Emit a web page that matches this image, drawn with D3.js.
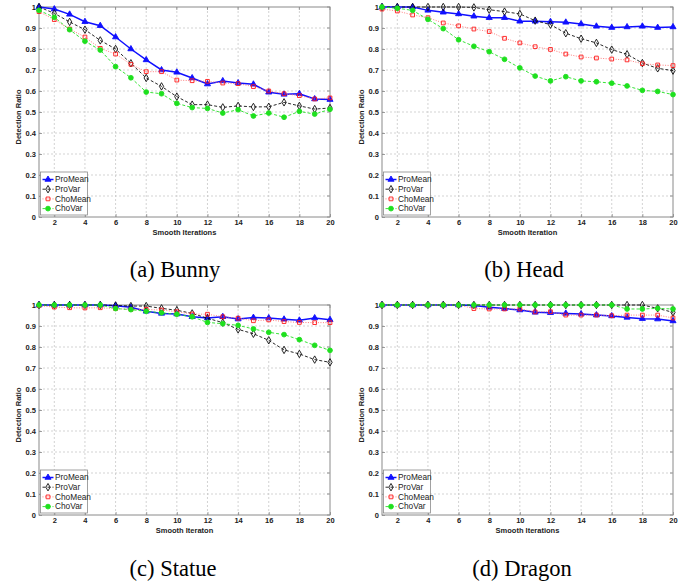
<!DOCTYPE html>
<html>
<head>
<meta charset="utf-8">
<script src="https://cdn.jsdelivr.net/npm/d3@7"></script>
<style>
  body { margin: 0; background: #fff; }
  svg { display: block; }
  .tick-label, .axis-title, .legend-text { font-family: "Liberation Sans", Arial, sans-serif; fill: #222; }
  .caption { font-family: "Liberation Serif", "Times New Roman", serif; font-size: 22.5px; fill: #000; }
</style>
</head>
<body>
<script>
// iterations on the x axis
const iterations = [1, 2, 3, 4, 5, 6, 7, 8, 9, 10, 11, 12, 13, 14, 15, 16, 17, 18, 19, 20];
const xTicks = [2, 4, 6, 8, 10, 12, 14, 16, 18, 20];
const yTicks = [0, 0.1, 0.2, 0.3, 0.4, 0.5, 0.6, 0.7, 0.8, 0.9, 1];
const seriesNames = ["ProMean", "ProVar", "ChoMean", "ChoVar"];

// (a) Bunny
const bunnyProMean = [1.0, 0.99, 0.965, 0.93, 0.911, 0.857, 0.80, 0.748, 0.70, 0.689, 0.662, 0.633, 0.648, 0.638, 0.632, 0.594, 0.584, 0.587, 0.562, 0.559];
const bunnyProVar = [1.0, 0.97, 0.929, 0.892, 0.841, 0.80, 0.732, 0.662, 0.622, 0.573, 0.535, 0.535, 0.522, 0.529, 0.524, 0.525, 0.546, 0.529, 0.514, 0.519];
const bunnyChoMean = [0.978, 0.94, 0.895, 0.857, 0.803, 0.776, 0.727, 0.692, 0.692, 0.652, 0.649, 0.646, 0.638, 0.635, 0.621, 0.60, 0.587, 0.578, 0.562, 0.567];
const bunnyChoVar = [0.984, 0.951, 0.892, 0.837, 0.795, 0.716, 0.663, 0.595, 0.587, 0.541, 0.521, 0.517, 0.495, 0.511, 0.481, 0.495, 0.475, 0.503, 0.49, 0.513];

// (b) Head
const headProMean = [1.0, 1.0, 1.0, 0.984, 0.975, 0.967, 0.956, 0.949, 0.949, 0.932, 0.932, 0.93, 0.927, 0.919, 0.908, 0.902, 0.905, 0.908, 0.902, 0.905];
const headProVar = [1.0, 1.0, 1.0, 1.0, 1.0, 1.0, 0.998, 0.987, 0.978, 0.967, 0.935, 0.916, 0.875, 0.849, 0.829, 0.797, 0.775, 0.733, 0.708, 0.697];
const headChoMean = [0.99, 0.981, 0.962, 0.949, 0.924, 0.91, 0.895, 0.883, 0.851, 0.829, 0.811, 0.798, 0.776, 0.762, 0.757, 0.752, 0.748, 0.73, 0.724, 0.721];
const headChoVar = [1.0, 0.994, 0.984, 0.941, 0.897, 0.844, 0.813, 0.787, 0.751, 0.71, 0.671, 0.648, 0.668, 0.648, 0.644, 0.637, 0.624, 0.603, 0.598, 0.583];

// (c) Statue
const statueProMean = [1.0, 1.0, 1.0, 1.0, 1.0, 0.997, 0.989, 0.97, 0.96, 0.957, 0.944, 0.938, 0.944, 0.933, 0.94, 0.938, 0.932, 0.927, 0.938, 0.93];
const statueProVar = [1.0, 1.0, 1.0, 1.0, 1.0, 0.998, 0.995, 0.995, 0.984, 0.975, 0.96, 0.937, 0.916, 0.884, 0.863, 0.832, 0.786, 0.767, 0.74, 0.727];
const statueChoMean = [0.997, 0.99, 0.987, 0.986, 0.987, 0.983, 0.979, 0.979, 0.976, 0.968, 0.957, 0.956, 0.944, 0.937, 0.925, 0.929, 0.921, 0.917, 0.916, 0.916];
const statueChoVar = [1.0, 1.0, 1.0, 1.0, 1.0, 0.983, 0.978, 0.97, 0.963, 0.956, 0.944, 0.917, 0.911, 0.903, 0.886, 0.87, 0.859, 0.835, 0.808, 0.784];

// (d) Dragon
const dragonProMean = [1.0, 1.0, 1.0, 1.0, 1.0, 1.0, 0.998, 0.989, 0.983, 0.976, 0.965, 0.963, 0.96, 0.957, 0.952, 0.948, 0.941, 0.935, 0.933, 0.924];
const dragonProVar = [1.0, 1.0, 1.0, 1.0, 1.0, 1.0, 1.0, 1.0, 1.0, 1.0, 1.0, 1.0, 1.0, 1.0, 1.0, 1.0, 1.0, 1.0, 0.984, 0.965];
const dragonChoMean = [1.0, 1.0, 1.0, 1.0, 1.0, 1.0, 0.983, 0.981, 0.981, 0.981, 0.967, 0.968, 0.952, 0.952, 0.952, 0.949, 0.952, 0.952, 0.952, 0.938];
const dragonChoVar = [1.0, 1.0, 1.0, 1.0, 1.0, 1.0, 1.0, 1.0, 1.0, 1.0, 1.0, 1.0, 1.0, 1.0, 1.0, 1.0, 0.981, 0.981, 0.984, 0.981];

const panels = [
  { caption: "(a) Bunny", xLabel: "Smooth Iterations", left: 39, top: 7, series: [bunnyProMean, bunnyProVar, bunnyChoMean, bunnyChoVar], capX: 175, capY: 277 },
  { caption: "(b) Head", xLabel: "Smooth Iteration", left: 382, top: 7, series: [headProMean, headProVar, headChoMean, headChoVar], capX: 524, capY: 277 },
  { caption: "(c) Statue", xLabel: "Smooth Iteraton", left: 39, top: 305, series: [statueProMean, statueProVar, statueChoMean, statueChoVar], capX: 173, capY: 576 },
  { caption: "(d) Dragon", xLabel: "Smooth Iterations", left: 382, top: 305, series: [dragonProMean, dragonProVar, dragonChoMean, dragonChoVar], capX: 522, capY: 576 }
];

// line / marker styles per series
const styles = [
  { color: "#1010ff", width: 1.5, dash: null, symbol: d3.symbolTriangle, size: 16, fill: "#1010ff", stroke: "#1010ff" },
  { color: "#111", width: 0.9, dash: "3,2", symbol: d3.symbolDiamond, size: 16, fill: "none", stroke: "#111" },
  { color: "#ff7070", width: 0.9, dash: "1,1.5", symbol: d3.symbolSquare, size: 14, fill: "none", stroke: "#ff1a1a" },
  { color: "#22e022", width: 0.9, dash: "3,2", symbol: d3.symbolCircle, size: 18, fill: "#1ee01e", stroke: "#1ee01e" }
];

const W = 699, H = 583, PW = 291, PH = 210;

const svg = d3.select("body").append("svg")
  .attr("width", W)
  .attr("height", H);

panels.forEach(p => {
  const x = d3.scaleLinear().domain([1, 20]).range([p.left, p.left + PW]);
  const y = d3.scaleLinear().domain([0, 1]).range([p.top + PH, p.top]);
  const g = svg.append("g");

  // white plot area
  g.append("rect")
    .attr("x", p.left).attr("y", p.top)
    .attr("width", PW).attr("height", PH)
    .attr("fill", "#fff");

  // grid
  g.selectAll(".vgrid").data(xTicks.filter(t => t < 20)).enter().append("line")
    .attr("x1", d => x(d)).attr("x2", d => x(d))
    .attr("y1", p.top).attr("y2", p.top + PH)
    .attr("stroke", "#c8c8c8").attr("stroke-width", 0.8).attr("stroke-dasharray", "2,2");
  g.selectAll(".hgrid").data(yTicks.filter(t => t > 0 && t < 1)).enter().append("line")
    .attr("x1", p.left).attr("x2", p.left + PW)
    .attr("y1", d => y(d)).attr("y2", d => y(d))
    .attr("stroke", "#c8c8c8").attr("stroke-width", 0.8).attr("stroke-dasharray", "2,2");

  // axes (ticks inside, like matlab)
  const xAxis = d3.axisBottom(x).tickValues(xTicks).tickSize(-3).tickPadding(3).tickFormat(d3.format("d"));
  const yAxis = d3.axisLeft(y).tickValues(yTicks).tickSize(-3).tickPadding(3)
    .tickFormat(d => d === 0 || d === 1 ? String(d) : d3.format(".1f")(d));

  const gx = g.append("g").attr("transform", `translate(0,${p.top + PH})`).call(xAxis);
  const gy = g.append("g").attr("transform", `translate(${p.left},0)`).call(yAxis);
  [gx, gy].forEach(a => {
    a.select(".domain").remove();
    a.selectAll(".tick line").attr("stroke", "#777").attr("stroke-width", 0.7);
    a.selectAll(".tick text").attr("class", "tick-label")
      .style("font-size", "7.5px").style("font-weight", "bold").attr("fill", "#222");
  });

  // top / right tick marks
  g.selectAll(".tt").data(xTicks).enter().append("line")
    .attr("x1", d => x(d)).attr("x2", d => x(d))
    .attr("y1", p.top).attr("y2", p.top + 3)
    .attr("stroke", "#777").attr("stroke-width", 0.7);
  g.selectAll(".rt").data(yTicks).enter().append("line")
    .attr("x1", p.left + PW).attr("x2", p.left + PW - 3)
    .attr("y1", d => y(d)).attr("y2", d => y(d))
    .attr("stroke", "#777").attr("stroke-width", 0.7);

  // box
  g.append("rect")
    .attr("x", p.left).attr("y", p.top)
    .attr("width", PW).attr("height", PH)
    .attr("fill", "none").attr("stroke", "#8a8a8a").attr("stroke-width", 1);

  // axis titles
  g.append("text").attr("class", "axis-title")
    .attr("x", p.left + PW / 2).attr("y", p.top + PH + 18)
    .attr("text-anchor", "middle")
    .style("font-size", "7.5px").style("font-weight", "bold")
    .text(p.xLabel);
  g.append("text").attr("class", "axis-title")
    .attr("transform", `translate(${p.left - 18},${p.top + PH / 2 + 5}) rotate(-90)`)
    .attr("text-anchor", "middle")
    .style("font-size", "7.5px").style("font-weight", "bold")
    .text("Detection Ratio");

  // series
  const line = d3.line().x((d, i) => x(iterations[i])).y(d => y(d));
  p.series.forEach((vals, si) => {
    const s = styles[si];
    g.append("path")
      .datum(vals)
      .attr("d", line)
      .attr("fill", "none")
      .attr("stroke", s.color)
      .attr("stroke-width", s.width)
      .attr("stroke-dasharray", s.dash);
    g.selectAll(".m" + si).data(vals).enter().append("path")
      .attr("transform", (d, i) => `translate(${x(iterations[i])},${y(d)})`)
      .attr("d", d3.symbol().type(s.symbol).size(s.size))
      .attr("fill", s.fill)
      .attr("stroke", s.stroke)
      .attr("stroke-width", 0.9);
  });

  // legend
  const lx = p.left + 1.5, ly = p.top + PH - 45;
  const lg = g.append("g").attr("transform", `translate(${lx},${ly})`);
  lg.append("rect")
    .attr("width", 47).attr("height", 43)
    .attr("fill", "#fff").attr("stroke", "#8a8a8a").attr("stroke-width", 0.8);
  seriesNames.forEach((name, si) => {
    const s = styles[si];
    const ry = 7.5 + si * 9.7;
    lg.append("line")
      .attr("x1", 2).attr("x2", 13).attr("y1", ry).attr("y2", ry)
      .attr("stroke", s.color).attr("stroke-width", s.width)
      .attr("stroke-dasharray", s.dash);
    lg.append("path")
      .attr("transform", `translate(7.5,${ry})`)
      .attr("d", d3.symbol().type(s.symbol).size(s.size))
      .attr("fill", s.fill).attr("stroke", s.stroke).attr("stroke-width", 0.9);
    lg.append("text").attr("class", "legend-text")
      .attr("x", 14.5).attr("y", ry + 2.8)
      .style("font-size", "8.3px")
      .text(name);
  });

  // caption
  svg.append("text").attr("class", "caption")
    .attr("x", p.capX).attr("y", p.capY)
    .attr("text-anchor", "middle")
    .text(p.caption);
});
</script>
</body>
</html>
